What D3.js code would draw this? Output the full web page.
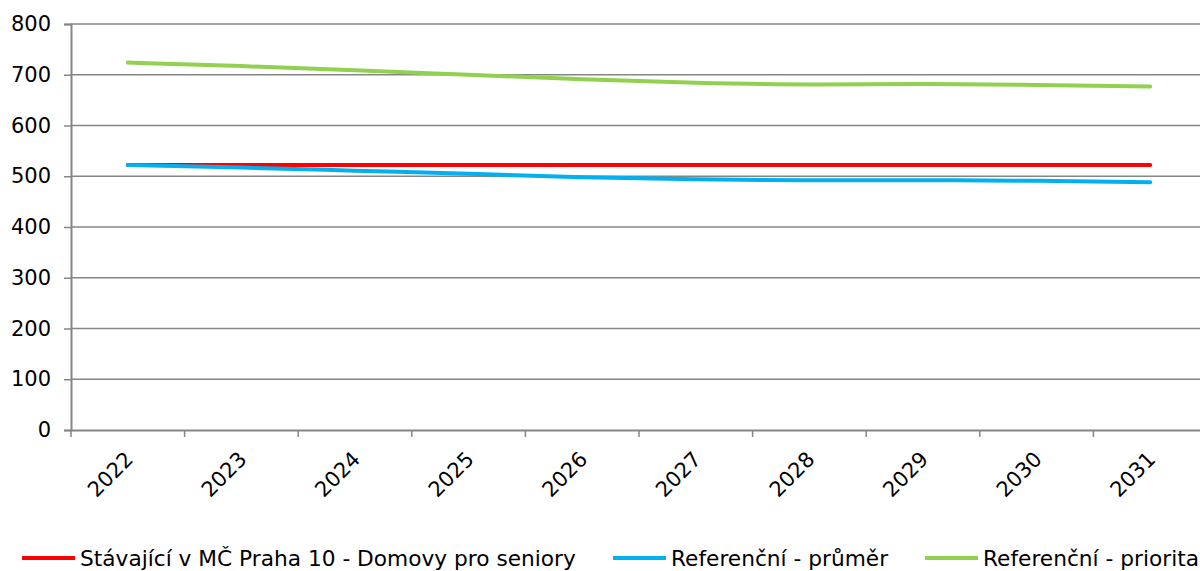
<!DOCTYPE html>
<html><head><meta charset="utf-8">
<script src="https://cdn.jsdelivr.net/npm/d3@7"></script>
<style>html,body{margin:0;padding:0;background:#fff;overflow:hidden}</style>
</head><body>
<svg id="c" width="1200" height="571"></svg>
<script>
const years = ["2022","2023","2024","2025","2026","2027","2028","2029","2030","2031"];
const stavajici = [522,522,522,522,522,522,522,522,522,522];
const prumer = [522,517,511,505,498,494,492,492,491,488];
const priorita = [724,717,709,700,691,684,681,682,680,677];
const yTicks = [0,100,200,300,400,500,600,700,800];
const seriesNames = ["Stávající v MČ Praha 10 - Domovy pro seniory","Referenční - průměr","Referenční - priorita"];
const seriesColors = ["#ff0000","#00b0f0","#92d050"];

(function(){
const svg = d3.select("#c");
const font = "'DejaVu Sans', Verdana, sans-serif";
const pL = 71, pR = 1207, pT = 24, pB = 430;
const x = d3.scaleBand().domain(years).range([pL, pR]);
const y = d3.scaleLinear().domain([0, 800]).range([pB, pT]);
const grid = "#868686";

svg.append("g").selectAll("line").data(yTicks.filter(d=>d>0)).join("line")
  .attr("x1", pL).attr("x2", pR).attr("y1", d=>y(d)).attr("y2", d=>y(d))
  .attr("stroke", grid).attr("stroke-width", 1.5);

const ya = svg.append("g").attr("transform", `translate(${pL},0)`)
  .call(d3.axisLeft(y).tickValues(yTicks).tickSize(7).tickPadding(13));
ya.select(".domain").attr("stroke", grid).attr("stroke-width", 2);
ya.selectAll(".tick line").attr("stroke", grid).attr("stroke-width", 1.5);
ya.selectAll("text").attr("font-family", font).attr("font-size", 21).attr("fill", "#000");

const xa = svg.append("g").attr("transform", `translate(0,${pB})`)
  .call(d3.axisBottom(x).tickSize(0).tickFormat(""));
xa.select(".domain").attr("stroke", grid).attr("stroke-width", 2);
const bounds = years.map(d => x(d)).concat([pR]);
xa.append("g").selectAll("line").data(bounds).join("line")
  .attr("x1", d=>d).attr("x2", d=>d).attr("y1", 0).attr("y2", 7)
  .attr("stroke", grid).attr("stroke-width", 1.5);
xa.append("g").selectAll("text").data(years).join("text")
  .attr("transform", d => `translate(${x(d)+x.bandwidth()/2-4},${20}) rotate(-45)`)
  .attr("text-anchor", "end").attr("dy", "0.71em")
  .attr("font-family", font).attr("font-size", 21).attr("fill", "#000")
  .text(d=>d);

const allSeries = [stavajici, prumer, priorita];
const line = d3.line().x((d,i)=>x(years[i])+x.bandwidth()/2).y(d=>y(d)).curve(d3.curveMonotoneX);
svg.append("g").selectAll("path").data(allSeries).join("path")
  .attr("d", d=>line(d)).attr("fill","none")
  .attr("stroke", (d,i)=>seriesColors[i]).attr("stroke-width", 4)
  .attr("stroke-linecap","round").attr("stroke-linejoin","round");

const legX = [22, 613, 925];
const lg = svg.append("g").selectAll("g").data(seriesNames).join("g")
  .attr("transform", (d,i)=>`translate(${legX[i]},558)`);
lg.append("line").attr("x1",0).attr("x2",53).attr("y1",0).attr("y2",0)
  .attr("stroke",(d,i)=>seriesColors[i]).attr("stroke-width",4);
lg.append("text").attr("x",58).attr("dy","0.35em")
  .attr("font-family", font).attr("font-size", 21.7).attr("fill","#000").text(d=>d);
})();
</script>
</body></html>
